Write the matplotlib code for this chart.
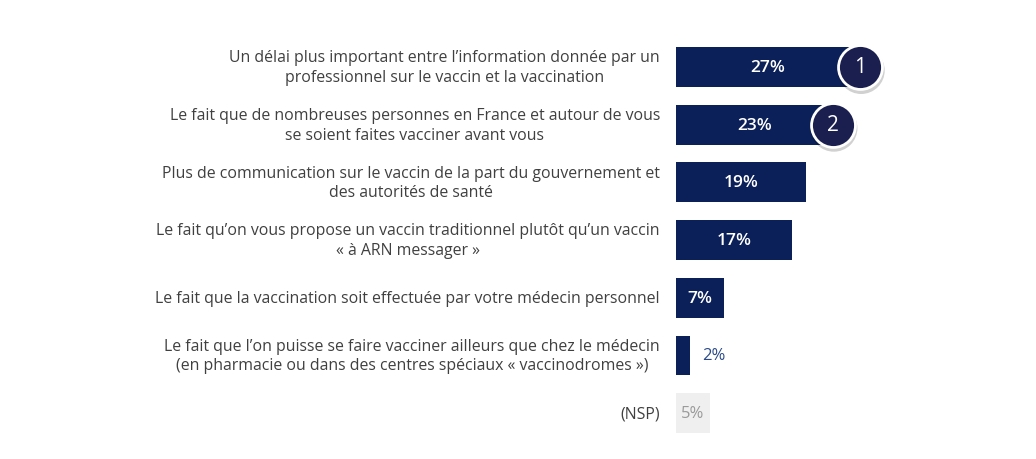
import matplotlib.pyplot as plt
import numpy as np

labels = [
    "Un délai plus important entre l’information donnée par un\nprofessionnel sur le vaccin et la vaccination",
    "Le fait que de nombreuses personnes en France et autour de vous\nse soient faites vacciner avant vous",
    "Plus de communication sur le vaccin de la part du gouvernement et\ndes autorités de santé",
    "Le fait qu’on vous propose un vaccin traditionnel plutôt qu’un vaccin\n« à ARN messager »",
    "Le fait que la vaccination soit effectuée par votre médecin personnel",
    "Le fait que l’on puisse se faire vacciner ailleurs que chez le médecin\n(en pharmacie ou dans des centres spéciaux « vaccinodromes »)",
    "(NSP)",
]
values = [27, 23, 19, 17, 7, 2, 5]
ranks = [1, 2]  # badges on the first two bars

NAVY = "#0b2058"
BADGE = "#1b1f4f"
GREY_BAR = "#efefef"

plt.rcParams["font.family"] = ["Open Sans", "DejaVu Sans"]

W, H = 1036, 460
fig = plt.figure(figsize=(W / 100, H / 100), dpi=100)
x0 = 676
ax = fig.add_axes([x0 / W, 0, 1 - x0 / W, 1])
px_per_pct = 6.82
ax.set_xlim(0, (W - x0) / px_per_pct)
row0, step = 68, 57.7
ax.set_ylim((H - row0) / step, -row0 / step)
ax.axis("off")

y = np.arange(len(values))
colors = [NAVY] * (len(values) - 1) + [GREY_BAR]
ax.barh(y, values, height=0.69, color=colors, zorder=2)

for i, (lab, v) in enumerate(zip(labels, values)):
    # category label, right aligned to the left of the bars
    fig.text(660 / W, 1 - (row0 + step * i) / H, lab, ha="right", va="center",
             multialignment="center", fontsize=11.4, color="#404040",
             linespacing=1.3)
    if i == len(values) - 1:
        ax.text(v / 2, i, f"{v}%", ha="center", va="center", fontsize=12,
                color="#9a9a9a", zorder=3)
    elif v >= 5:
        ax.text(v / 2, i, f"{v}%", ha="center", va="center", fontsize=12.5,
                color="white", fontweight="semibold", zorder=3)
    else:
        ax.text(v + 1.9, i, f"{v}%", ha="left", va="center", fontsize=12,
                color="#2a4a8a", zorder=3)

for i, r in enumerate(ranks):
    v = values[i]
    # soft shadow then the badge
    ax.scatter([v + 0.15], [i + 0.06], s=1150, color="#000000", alpha=0.18,
               edgecolors="none", zorder=4, clip_on=False)
    ax.scatter([v], [i], s=1000, color=BADGE, edgecolors="white",
               linewidths=2, zorder=5, clip_on=False)
    ax.text(v, i, str(r), ha="center", va="center", fontsize=15,
            color="white", zorder=6)

fig.savefig("out.png", dpi=100)
